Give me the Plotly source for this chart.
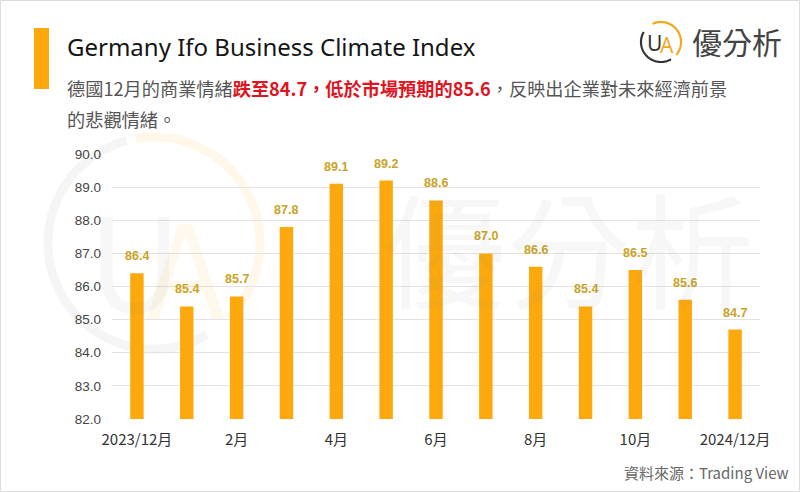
import numpy as np
import plotly.graph_objects as go

# ---------------- data ----------------
categories = ["2023/12月", "2024/1月", "2024/2月", "2024/3月", "2024/4月", "2024/5月",
              "2024/6月", "2024/7月", "2024/8月", "2024/9月", "2024/10月", "2024/11月", "2024/12月"]
values = [86.4, 85.4, 85.7, 87.8, 89.1, 89.2, 88.6, 87.0, 86.6, 85.4, 86.5, 85.6, 84.7]
tick_labels = ["2023/12月", "", "2月", "", "4月", "", "6月", "", "8月", "", "10月", "", "2024/12月"]
y_ticks = [82, 83, 84, 85, 86, 87, 88, 89, 90]

W, H = 800, 492
L, R, T, B = 112, 40, 154, 73
PW, PH = W - L - R, H - T - B

def px(x):
    return (x - L) / PW

def py(y):
    return (H - B - y) / PH

CJK = "Noto Sans CJK TC, Noto Sans, sans-serif"
NUM = "Liberation Sans, Arial, sans-serif"

fig = go.Figure()
fig.add_trace(go.Bar(
    x=categories, y=values, width=0.27,
    marker=dict(color="#FDA90D", line=dict(width=0)),
    hoverinfo="skip",
))

shapes = []
annotations = []

# value labels above bars
for c, v in zip(categories, values):
    annotations.append(dict(x=c, y=v, xref="x", yref="y", text=f"{v:.1f}", showarrow=False,
                            xanchor="center", yanchor="bottom", yshift=8,
                            font=dict(family=NUM, size=12.5, color="#C9A227", weight="bold")))

# outer border
shapes.append(dict(type="rect", xref="paper", yref="paper", x0=px(0.5), x1=px(W - 0.5),
                   y0=py(H - 0.5), y1=py(0.5), line=dict(color="#DDDDDD", width=1), layer="below"))
# left accent bar
shapes.append(dict(type="rect", xref="paper", yref="paper", x0=px(34), x1=px(49),
                   y0=py(89), y1=py(28), fillcolor="#FDA90D", line=dict(width=0)))

def arc_path(cx, cy, r, a0, a1, n=60):
    pts = []
    for i in range(n + 1):
        a = np.radians(a0 + (a1 - a0) * i / n)
        pts.append((px(cx + r * np.cos(a)), py(cy - r * np.sin(a))))
    return "M " + " L ".join(f"{x:.5f},{y:.5f}" for x, y in pts)

# watermark circle
wcx, wcy, wr = 154, 243, 106
shapes.append(dict(type="path", xref="paper", yref="paper", path=arc_path(wcx, wcy, wr, 105, 300),
                   line=dict(color="rgba(120,120,120,0.07)", width=9), layer="below"))
shapes.append(dict(type="path", xref="paper", yref="paper", path=arc_path(wcx, wcy, wr, -45, 100),
                   line=dict(color="rgba(253,169,13,0.09)", width=9), layer="below"))
annotations.append(dict(text="U", x=px(135), y=py(255), xref="paper", yref="paper", showarrow=False,
                        xanchor="center", yanchor="middle",
                        font=dict(family=CJK, size=130, color="rgba(120,120,120,0.06)")))
annotations.append(dict(text="A", x=px(185), y=py(262), xref="paper", yref="paper", showarrow=False,
                        xanchor="center", yanchor="middle",
                        font=dict(family=CJK, size=130, color="rgba(253,169,13,0.08)")))
annotations.append(dict(text="優分析", x=px(568), y=py(245), xref="paper", yref="paper", showarrow=False,
                        xanchor="center", yanchor="middle",
                        font=dict(family=CJK, size=124, color="rgba(120,120,120,0.06)")))

# logo at top right
lcx, lcy, lr = 661, 42, 20
shapes.append(dict(type="path", xref="paper", yref="paper", path=arc_path(lcx, lcy, lr, 150, 300),
                   line=dict(color="#333333", width=2.2)))
shapes.append(dict(type="path", xref="paper", yref="paper", path=arc_path(lcx, lcy, lr, -40, 115),
                   line=dict(color="#F2A81D", width=2.2)))
annotations.append(dict(text="U", x=px(654), y=py(43), xref="paper", yref="paper", showarrow=False,
                        xanchor="center", yanchor="middle",
                        font=dict(family="Noto Sans", size=21, color="#333333")))
annotations.append(dict(text="A", x=px(667), y=py(45), xref="paper", yref="paper", showarrow=False,
                        xanchor="center", yanchor="middle",
                        font=dict(family="Noto Sans", size=21, color="#F2A81D")))
annotations.append(dict(text="優分析", x=px(690), y=py(41), xref="paper", yref="paper", showarrow=False,
                        xanchor="left", yanchor="middle", font=dict(family=CJK, size=30, color="#444444")))

# title + subtitle
annotations.append(dict(text="Germany Ifo Business Climate Index", x=px(65), y=py(46), xref="paper", yref="paper",
                        showarrow=False, xanchor="left", yanchor="middle",
                        font=dict(family="Noto Sans", size=24, color="#151515")))
annotations.append(dict(
    text="德國12月的商業情緒<span style='color:#E0141E'><b>跌至84.7，低於市場預期的85.6</b></span>，反映出企業對未來經濟前景",
    x=px(65), y=py(88), xref="paper", yref="paper", showarrow=False, xanchor="left", yanchor="middle",
    font=dict(family=CJK, size=18.2, color="#555555")))
annotations.append(dict(text="的悲觀情緒。", x=px(65), y=py(119), xref="paper", yref="paper", showarrow=False,
                        xanchor="left", yanchor="middle", font=dict(family=CJK, size=18.2, color="#555555")))
# source
annotations.append(dict(text="資料來源：Trading View", x=px(791), y=py(472), xref="paper", yref="paper",
                        showarrow=False, xanchor="right", yanchor="middle",
                        font=dict(family=CJK, size=15, color="#666666")))

fig.update_layout(
    width=W, height=H, margin=dict(l=L, r=R, t=T, b=B),
    paper_bgcolor="white", plot_bgcolor="rgba(0,0,0,0)",
    showlegend=False, shapes=shapes, annotations=annotations, bargap=0.7,
    xaxis=dict(type="category", tickmode="array", tickvals=categories, ticktext=tick_labels,
               tickfont=dict(family=CJK, size=15, color="#333333"), ticks="", showgrid=False,
               showline=False, zeroline=False, range=[-0.5, 12.5], fixedrange=True,
               ticklabelstandoff=10),
    yaxis=dict(range=[82, 90], tickvals=y_ticks, ticktext=[f"{v:.1f}" for v in y_ticks],
               tickfont=dict(family=NUM, size=13.5, color="#444444"), gridcolor="#E3E3E3", gridwidth=1,
               showline=False, zeroline=False, ticks="", ticklabelstandoff=10, fixedrange=True),
)

fig.write_html("out.html", config={"displayModeBar": False},
               post_script="document.body.style.margin='0';document.body.style.overflow='hidden';")
